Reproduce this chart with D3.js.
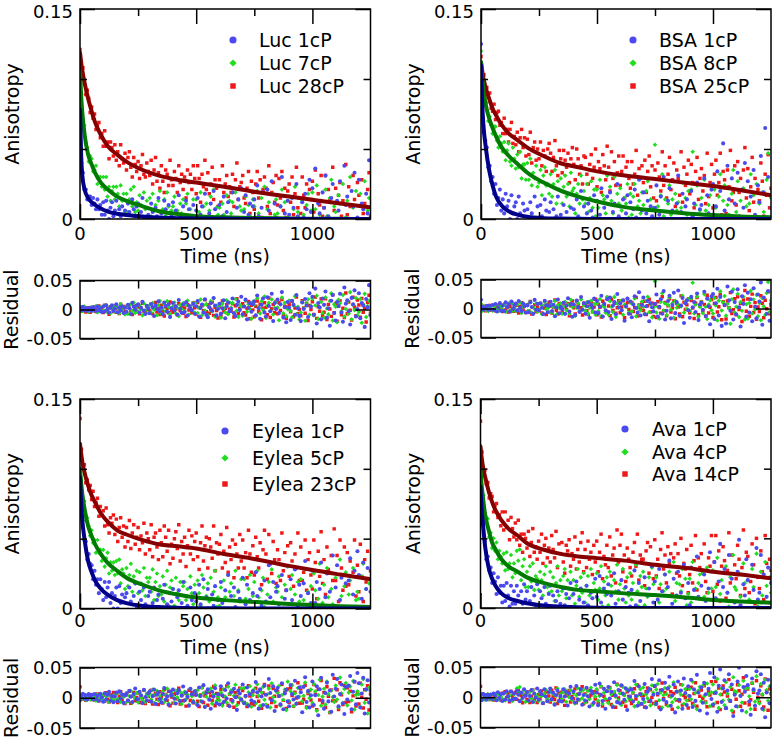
<!DOCTYPE html>
<html><head><meta charset="utf-8">
<script src="https://cdn.jsdelivr.net/npm/d3@7"></script>
<style>body{margin:0;background:#fff}svg text{font-family:"DejaVu Sans",sans-serif;fill:#000}</style>
</head><body><svg id="c" width="776" height="737"></svg>
<script>
// ---------- data ----------
const timeStep = 6.25; // ns between samples, 0..1250 ns
const fitTimes = [0,5,10,20,35,50,65,90,120,160,200,270,340,420,500,620,750,900,1000,1120,1250];
const xMajorTicks = [0,500,1000];
const xMinorTicks = [250,750];
const xTickLabels = ["0","500","1000"];
const yMajorTicks = [0,0.15];
const yMinorTicks = [0.05,0.1];
const yTickLabels = ["0","0.15"];
const resXTicks = [250,500,750,1000];
const resYTicks = [-0.05,0,0.05];
const resTickLabels = ["-0.05","0","0.05"];

const lucNames = ["Luc 1cP","Luc 7cP","Luc 28cP"];
const bsaNames = ["BSA 1cP","BSA 8cP","BSA 25cP"];
const eyleaNames = ["Eylea 1cP","Eylea 5cP","Eylea 23cP"];
const avaNames = ["Ava 1cP","Ava 4cP","Ava 14cP"];

const luc1Fit = [.078,.045,.031,.021,.015,.012,.010,.0075,.0053,.0038,.0029,.0018,.001,.0006,.0003,.0001,0,0,0,0,0];
const luc7Fit = [.105,.088,.076,.060,.046,.039,.033,.026,.021,.016,.013,.009,.0055,.0035,.002,.0012,.0007,.0004,.0002,.0001,0];
const luc28Fit = [.119,.112,.106,.097,.086,.077,.069,.060,.052,.046,.041,.035,.031,.028,.026,.023,.0195,.016,.0137,.011,.0083];
const bsa1Fit = [.110,.083,.068,.052,.035,.024,.016,.0095,.0055,.003,.0016,.0006,.0003,.0001,0,0,0,0,0,0,0];
const bsa8Fit = [.112,.102,.093,.082,.072,.065,.059,.051,.045,.039,.033,.026,.0205,.016,.0125,.0085,.006,.0038,.0028,.0018,.0012];
const bsa25Fit = [.112,.106,.101,.094,.086,.079,.074,.067,.061,.056,.051,.045,.040,.037,.034,.031,.0285,.0255,.0235,.0205,.017];
const eylea1Fit = [.094,.075,.063,.049,.034,.026,.020,.014,.0098,.006,.0038,.0018,.001,.0005,.0002,.0001,0,0,0,0,0];
const eylea5Fit = [.100,.090,.082,.071,.059,.052,.046,.039,.0325,.027,.022,.017,.013,.010,.0078,.006,.0047,.0033,.0025,.0017,.001];
const eylea23Fit = [.118,.111,.105,.097,.088,.081,.076,.068,.062,.056,.053,.049,.046,.0445,.043,.039,.0355,.0305,.0275,.0243,.021];
const ava1Fit = [.087,.070,.061,.044,.029,.021,.0158,.0105,.0072,.005,.0034,.0018,.001,.0005,.0002,0,0,0,0,0,0];
const ava4Fit = [.100,.088,.080,.067,.056,.047,.042,.035,.030,.026,.022,.018,.0153,.013,.012,.0105,.0093,.0073,.0058,.0047,.0038];
const ava14Fit = [.116,.108,.102,.094,.084,.076,.070,.063,.057,.052,.0465,.042,.039,.037,.0358,.034,.031,.0285,.026,.024,.0213];

const luc1 = [.081,.040,.033,.021,.021,.014,.016,.016,.010,.015,.011,.007,.014,.007,.010,.003,
.012,.003,.013,.006,0,.008,.012,.002,.006,.013,-.001,.007,.002,.009,-.003,.006,
-.001,.011,.005,-.005,.014,.007,.002,.009,.011,-.003,.005,.015,0,-.006,.008,.003,
-.005,.011,.005,-.010,.008,.002,.015,-.002,.004,-.007,.013,.007,-.003,.010,-.012,.003,
.012,-.001,.006,-.008,.017,.002,-.005,.009,-.004,.013,-.010,.007,.002,-.001,.010,-.007,
.006,.015,-.012,.003,.009,-.005,.018,-.009,-.013,.004,.011,-.002,.020,.007,-.010,.001,
.010,-.007,.002,.016,-.015,.005,.012,-.003,.001,.019,-.006,-.011,.008,.014,-.001,.022,
-.008,.005,.017,-.017,.003,.011,-.004,.009,.014,-.010,.024,.002,-.016,.008,.019,-.005,
-.012,.021,.006,-.003,.027,-.020,.011,.001,.017,-.006,.009,.030,-.014,.004,-.022,.013,
.003,-.018,.015,.008,-.009,.025,.002,-.011,-.020,.012,.001,.018,.007,-.013,.028,.005,
.022,-.009,.036,-.024,.011,.004,-.017,.019,.008,.031,-.014,.002,-.028,.015,.025,-.006,
-.019,.013,.006,.027,-.005,-.021,.038,.010,.016,-.003,-.026,.020,.009,.033,-.012,.001,
.028,-.015,.011,.007,-.030,.018,.004,.042,-.010];
const luc7 = [.103,.089,.069,.067,.054,.051,.041,.045,.043,.034,.035,.038,.025,.030,.030,.023,
.030,.021,.030,.016,.023,.013,.020,.023,.014,.023,.018,.009,.024,.013,.018,.005,
.018,.005,.014,.021,.009,.023,.005,.012,.006,.017,.010,-.001,.019,.007,.013,.002,
.015,.002,.018,.006,.010,-.004,.013,.020,-.002,.007,.014,.002,.019,.009,-.004,.006,
.009,.016,-.003,.006,-.008,.011,.004,.014,0,.011,.018,-.006,.007,.001,.014,-.003,
.014,-.004,.005,.019,-.008,.009,0,.011,-.008,.006,.016,-.002,.021,-.011,.008,.003,
.008,-.013,.011,.003,-.004,.017,-.007,.013,.004,.012,-.006,.019,-.001,-.012,.009,.006,
-.010,.007,.016,-.003,.010,.002,-.015,.014,.009,-.011,.020,.004,-.006,.015,0,.023,
-.014,.007,.012,-.002,.018,-.008,.003,.014,.004,-.018,.009,.021,-.006,.012,-.011,.001,
.016,-.002,-.013,.007,.023,-.008,.005,-.017,-.005,.013,.003,-.019,.010,.018,-.009,.006,
.019,-.010,.007,.024,-.016,.003,.013,-.006,-.014,.021,.002,-.008,.015,.028,-.019,.009,
.005,-.022,.017,.011,-.003,.025,-.012,.001,.013,-.007,.030,-.017,.008,-.001,.020,-.010,
-.004,.018,-.023,.009,.027,-.013,.006,.015,-.008];
const luc28 = [.121,.108,.108,.097,.089,.092,.086,.076,.080,.072,.075,.064,.067,.069,.058,.061,
.052,.063,.052,.055,.043,.055,.051,.045,.053,.042,.048,.038,.053,.043,.040,.047,
.035,.044,.048,.037,.030,.044,.039,.034,.041,.029,.038,.046,.032,.030,.040,.034,
.031,.042,.025,.035,.044,.027,.033,.022,.038,.027,.019,.035,.032,.024,.042,.028,
.024,.034,.029,.019,.038,.026,.032,.021,.030,.015,.035,.026,.032,.021,.038,.029,
.018,.038,.029,.012,.032,.023,.042,.021,.033,.018,.025,.037,.014,.028,.022,.009,
.028,.012,.038,.019,.025,.031,.016,.023,.019,.032,.009,.028,.040,.014,.023,.026,
.031,.015,.011,.022,.034,.004,.027,.019,.007,.025,.034,.015,.028,.001,.021,.030,
.022,.009,.038,.004,.019,.026,.012,.031,.010,.029,.015,.034,.006,.022,.001,.020,
.025,.012,.030,.003,.018,.037,.008,.015,.004,.030,.017,.008,.025,-.005,.021,.014,
.027,.005,.035,-.002,.018,.010,.031,.002,.008,.031,-.005,.021,.013,0,.037,.006,
.022,-.009,.017,.026,.002,.013,-.003,.039,.003,.023,.009,-.008,.031,.014,-.001,.026,
.017,-.004,.028,.004,.011,-.013,.021,.033,.002];

const bsa1 = [.125,.082,.062,.056,.051,.037,.038,.027,.030,.018,.025,.010,.015,.021,.006,.014,
.004,.018,.009,.013,0,.017,.004,.009,.012,0,.016,.004,-.002,.011,.006,-.005,
.007,-.005,.012,.004,-.008,.016,-.001,.009,-.002,.010,.002,-.009,.014,.006,-.006,.005,
.012,-.004,.007,-.013,.002,.016,-.008,.003,-.001,.010,-.009,.005,.018,-.005,.008,-.014,
.007,-.011,.014,.002,-.006,.020,-.002,.009,-.009,.004,.011,-.016,.006,.001,.017,-.007,
.013,-.008,.003,.022,-.014,.008,-.003,.016,-.006,.019,-.018,.005,.011,-.010,.025,.002,
.009,-.003,.014,-.021,.004,.017,-.009,.012,-.015,.007,.021,.001,-.007,.028,-.012,.006,
.019,-.010,.004,.013,-.022,.009,.002,-.005,.008,.024,-.014,.003,.016,-.009,.030,-.019,
-.004,.013,.022,-.017,.006,.027,-.008,.011,.031,-.012,.005,.018,-.025,.009,.014,-.003,
-.016,.020,.002,.011,-.006,.026,-.020,.007,.010,-.002,.029,-.013,.017,.004,-.027,.021,
.025,-.018,.009,.034,-.012,.020,-.030,.054,.006,-.026,.038,.014,-.004,.029,-.019,.011,
-.010,.033,.002,-.031,.021,.008,.040,-.014,.027,-.007,.016,-.022,.035,.003,-.017,.024,
.012,.045,-.028,.019,.065,-.009,.030,-.021,.008];
const bsa8 = [.120,.096,.094,.081,.083,.070,.073,.067,.061,.066,.066,.056,.051,.059,.054,.048,
.055,.042,.049,.054,.041,.038,.051,.043,.036,.046,.037,.048,.029,.039,.039,.028,
.040,.028,.043,.024,.033,.029,.038,.023,.026,.035,.017,.031,.037,.024,.025,.018,
.032,.016,.025,.035,.011,.027,.021,.029,.011,.023,.031,.016,.025,.009,.033,.020,
.022,.004,.018,.025,.011,.031,.014,.020,.011,.025,.005,.015,.027,.008,.021,.002,
.021,.008,.028,-.001,.017,.014,.004,.031,0,.023,.013,.004,.030,-.005,.018,.011,
.022,.006,-.002,.015,.011,.025,.001,.018,.003,.016,.025,-.006,.009,.013,.004,.019,
.010,-.002,.020,.027,0,.014,-.009,.008,.053,-.001,.009,-.012,.017,.032,.002,.014,
-.006,.011,.024,.003,.014,-.011,.018,.006,.012,-.009,.008,.026,-.003,.015,.003,.020,
0,.021,.048,-.005,.010,.024,-.011,.006,.015,-.005,.028,.006,-.015,.010,.017,0,
-.006,.021,.008,-.018,.016,.032,-.001,.013,.024,-.010,.010,.003,-.024,.018,.035,-.005,
.005,.027,-.013,.013,-.002,.022,-.017,.009,-.016,.011,.032,-.007,.017,0,.025,-.012,
.011,-.019,.019,.005,-.010,.028,.047,-.005,.015];
const bsa25 = [.116,.103,.103,.091,.094,.087,.090,.079,.077,.082,.071,.076,.077,.067,.069,.061,
.072,.061,.064,.055,.064,.069,.054,.059,.053,.062,.048,.058,.064,.051,.058,.045,
.057,.046,.062,.040,.051,.055,.042,.050,.043,.055,.038,.049,.045,.034,.050,.054,
.047,.034,.044,.056,.038,.031,.049,.043,.033,.049,.042,.037,.047,.026,.043,.051,
.039,.028,.050,.043,.032,.038,.025,.045,.044,.032,.025,.039,.046,.029,.037,.050,
.023,.041,.036,.019,.046,.038,.028,.052,.037,.020,.048,.029,.041,.024,.033,.045,
.024,.034,.045,.015,.037,.041,.029,.022,.041,.025,.032,.049,.017,.036,.029,.038,
.026,.042,.019,.034,.045,.023,.038,.015,.035,.013,.040,.030,.020,.048,.024,.038,
.015,.032,.044,.021,.028,.040,.009,.035,.029,.017,.048,.012,.037,.024,.032,.042,
.018,.039,.026,.008,.034,.044,.014,.029,.036,.020,.031,.011,.047,.016,.026,.039,
.008,.032,.042,.017,.026,.047,.003,.034,.028,.004,.035,.023,.049,.013,.019,.038,
.010,.041,.019,.029,-.002,.035,.051,.015,.036,.006,.023,.044,.012,.029,0,.021,
.013,.040,.027,.002,.032,.017,.046,.008,.022];

const eylea1 = [.090,.075,.066,.049,.048,.035,.039,.032,.031,.021,.027,.017,.021,.011,.021,.014,
.006,.019,.008,.015,.019,.004,.011,0,.009,.015,0,.016,.004,.010,-.004,.008,
.011,-.001,.015,.005,-.004,.009,.018,0,0,.012,.006,-.007,.015,.003,-.003,.009,
.012,-.005,.004,.015,-.009,.006,.010,-.001,-.007,.007,.017,-.002,.003,-.011,.011,.005,
.014,-.001,-.009,.008,.013,-.005,.004,.019,-.004,.009,.002,-.013,.015,.006,-.007,.011,
.005,-.012,.017,.003,-.006,.021,-.015,.008,.014,-.003,-.018,.010,.002,.016,-.009,.006,
-.011,.019,.004,-.007,.013,-.001,.024,-.014,.009,-.005,.015,.001,-.020,.012,.007,-.003,
.022,-.009,.003,.017,-.013,.006,-.004,.011,-.007,.026,.009,-.018,.014,.002,-.012,.020,
.005,-.015,.031,.008,-.004,.019,-.022,.012,.016,.003,-.011,.024,-.019,.007,.013,-.006,
-.014,.021,.006,-.003,.028,-.010,.001,.017,.009,-.024,.018,.034,-.007,.011,-.016,.004,
.027,-.012,.004,.019,-.029,.014,.033,-.005,-.018,.008,.025,-.006,.012,-.023,.038,.002,
.015,.031,-.014,.006,.022,-.009,-.027,.018,-.003,.020,.036,-.019,.010,.027,-.011,.041,
.024,-.016,.007,.033,-.026,.014,.029,-.008,.012];
const eylea5 = [.097,.092,.078,.077,.063,.065,.059,.052,.056,.047,.049,.040,.049,.040,.042,.034,
.042,.030,.036,.040,.025,.033,.027,.033,.024,.034,.025,.035,.018,.028,.025,.014,
.029,.016,.024,.032,.012,.023,.018,.027,.011,.026,.018,.013,.029,.009,.022,.019,
.022,.012,.028,.006,.019,.025,.009,.016,.010,.023,.005,.017,.027,.002,.015,.020,
.014,.002,.022,.011,.006,.019,-.001,.016,.019,.006,.014,-.003,.023,.011,.003,.017,
-.002,.020,.011,.002,.024,.015,-.007,.009,.018,.005,.022,-.003,.012,.027,.001,.008,
.002,.015,-.007,.020,.008,-.002,.024,.012,.018,-.002,.009,.027,-.007,.013,.005,.021,
-.001,.021,.007,-.005,.014,.024,-.010,.009,.019,-.005,.027,.008,-.009,.013,.022,.001,
-.007,.010,.019,-.012,.028,.005,-.003,.015,.012,.023,-.009,.008,0,.017,-.017,.030,
-.002,.014,.024,-.011,.010,-.006,.019,.005,.021,-.003,.006,.028,-.014,.012,.002,.016,
-.006,.025,.013,-.019,.007,.032,-.011,.004,.017,-.009,.029,.008,-.022,.014,.003,-.005,
.022,-.001,-.014,.035,.009,-.007,.016,.026,-.011,.010,.020,-.003,.029,-.018,.006,.012,
.007,-.014,.023,.032,-.007,.014,-.025,.018,-.002];
const eylea23 = [.136,.114,.101,.103,.090,.092,.085,.088,.078,.084,.073,.076,.079,.066,.073,.067,
.070,.059,.072,.060,.054,.065,.061,.067,.053,.064,.048,.058,.065,.051,.059,.044,
.058,.048,.063,.043,.054,.060,.046,.051,.058,.042,.052,.047,.061,.039,.054,.050,
.042,.060,.037,.051,.054,.044,.035,.056,.047,.037,.059,.051,.041,.056,.032,.046,
.036,.050,.055,.043,.060,.034,.048,.039,.051,.030,.045,.056,.039,.052,.035,.048,
.054,.037,.028,.047,.059,.034,.045,.051,.029,.050,.044,.036,.059,.027,.047,.039,
.046,.053,.029,.041,.033,.058,.026,.044,.035,.049,.022,.046,.039,.029,.053,.034,
.049,.029,.040,.022,.056,.039,.026,.045,.024,.051,.037,.029,.047,.017,.042,.056,
.039,.021,.053,.032,.025,.048,.035,.018,.042,.035,.020,.054,.027,.040,.013,.045,
.023,.047,.034,.016,.039,.029,.054,.020,.044,.020,.026,.049,.013,.035,.040,.024,
.014,.049,.033,.007,.041,.023,.055,.018,.035,.010,.044,.028,.001,.038,.020,.057,
.020,.038,.005,.049,.029,.013,.044,.016,.040,.017,.034,0,.026,.049,.009,.031,
.012,.046,.023,.005,.035,.019,.041,.001,.027];

const ava1 = [.090,.063,.062,.048,.035,.037,.027,.029,.018,.025,.019,.010,.022,.011,.016,.004,
.016,.005,.018,.009,.001,.016,.003,.012,.003,.016,.009,-.002,.012,.003,.017,.006,
.012,-.002,.005,.015,-.005,.009,.002,.017,-.002,.012,.007,-.008,.015,.003,-.005,.010,
.016,-.002,.009,-.011,.005,.012,-.005,.003,-.006,.014,.002,.010,-.013,.007,.018,-.001,
.010,-.008,.019,-.003,.006,.014,-.012,.004,-.005,.016,.002,-.015,.011,.007,-.009,.021,
.008,-.013,.023,.004,-.006,.014,-.019,.010,.017,-.002,.009,-.016,.025,.003,-.008,.012,
-.010,.020,.006,-.004,.015,-.021,.011,.001,.013,-.007,.027,.002,-.014,.018,.005,-.011,
-.003,.022,-.017,.009,.014,-.006,.030,.004,.019,-.011,.006,.028,-.020,.012,-.004,.024,
-.008,.015,.034,-.014,.003,.021,-.025,.009,.026,-.004,.011,-.019,.031,.007,-.013,.018,
.002,.029,-.016,.013,-.006,.037,.008,-.022,.016,-.009,.024,.005,-.027,.014,.040,-.003,
-.012,.033,.007,-.024,.019,.046,-.008,.015,.028,-.018,.011,.038,-.006,.021,-.031,.004,
-.015,.026,.049,.002,-.022,.017,.009,.035,.020,-.007,-.029,.031,.013,-.014,.043,.006,
.011,.038,-.019,.024,-.033,.008,.029,-.010,.018];
const ava4 = [.103,.083,.081,.065,.065,.064,.051,.054,.043,.050,.041,.047,.035,.041,.037,.032,
.039,.027,.040,.028,.032,.038,.022,.032,.025,.041,.034,.042,.020,.030,.035,.015,
.026,.015,.030,.019,.032,.013,.023,.021,.013,.026,.020,.009,.024,.030,.015,.011,
.026,.012,.022,.005,.018,.030,.009,.020,.012,.023,.028,.007,.020,.014,.026,.009,
.020,.003,.016,.028,.008,.022,.011,.025,.004,.016,.023,.009,.028,0,.018,.013,
.025,.006,.014,.030,.001,.019,.009,.022,.002,.026,.016,-.003,.020,.012,.031,.006,
.017,-.002,.028,.014,.004,.022,.009,.025,.006,.018,-.005,.031,.012,.001,.023,.015,
.026,.002,.014,.008,.022,-.004,.029,.017,-.002,.022,.031,.004,.017,-.008,.012,.024,
.014,-.006,.026,.009,0,.033,.005,.018,-.009,.017,.012,.028,-.003,.021,.002,.010,
.021,.004,.033,-.006,.014,-.013,.018,.024,0,.025,.008,-.003,.029,.011,-.009,.014,
.027,-.005,.015,.036,-.012,.010,.020,0,-.008,.030,.011,.001,.022,-.017,.038,.015,
.013,-.011,.025,.008,-.004,.032,.018,-.020,.020,.006,-.015,.028,.015,-.003,.039,.001,
-.006,.026,.009,-.017,.033,.016,-.002,.022,.011];
const ava14 = [.134,.112,.098,.099,.089,.090,.079,.082,.080,.069,.074,.075,.065,.067,.059,.069,
.056,.069,.058,.063,.049,.065,.057,.051,.061,.049,.063,.045,.053,.040,.053,.050,
.043,.055,.037,.047,.057,.040,.044,.035,.048,.040,.053,.032,.045,.050,.036,.043,
.033,.052,.042,.036,.055,.029,.046,.039,.047,.033,.025,.045,.041,.049,.030,.039,
.035,.051,.028,.042,.033,.047,.054,.026,.042,.029,.048,.035,.040,.024,.045,.033,
.048,.026,.040,.053,.021,.037,.031,.045,.029,.051,.023,.038,.043,.018,.056,.033,
.045,.053,.026,.038,.019,.043,.035,.029,.023,.040,.047,.030,.053,.020,.038,.035,
.035,.016,.041,.047,.025,.044,.031,.021,.049,.023,.035,.014,.042,.054,.028,.038,
.018,.044,.032,.039,.010,.036,.046,.025,.039,.023,.050,.016,.032,.028,.042,.011,
.024,.045,.018,.034,.052,.013,.036,.029,.039,.025,.046,.019,.011,.036,.030,.052,
.012,.033,.052,.017,.041,.005,.030,.044,.034,.007,.027,.054,.018,.038,0,.031,
.021,.045,.035,.009,.029,.056,.014,.040,.037,.011,.019,.046,.031,.003,.050,.022,
.014,.041,.026,.006,.052,.032,0,.035,.027];

// ---------- drawing ----------
const colors = ["#4a4aee","#20dd20","#ee1818"];
const fitColors = ["#000088","#007a00","#860000"];
const times = d3.range(0, 1250 + 1e-6, timeStep);

const panels = [
  {names:lucNames, series:[luc1,luc7,luc28], fits:[luc1Fit,luc7Fit,luc28Fit],
   x0:80, x1:370.5, y0:9, y1:219, ry0:280.5, ry1:338.5, xlabY:239.5, titleY:263,
   lmx:233, ltx:259, lys:[40,63,86]},
  {names:bsaNames, series:[bsa1,bsa8,bsa25], fits:[bsa1Fit,bsa8Fit,bsa25Fit],
   x0:481, x1:771, y0:9, y1:219, ry0:279.5, ry1:337.5, xlabY:239.5, titleY:263,
   lmx:633, ltx:659, lys:[40,63,86]},
  {names:eyleaNames, series:[eylea1,eylea5,eylea23], fits:[eylea1Fit,eylea5Fit,eylea23Fit],
   x0:80, x1:370.5, y0:399, y1:608.5, ry0:667.5, ry1:728, xlabY:627, titleY:654,
   lmx:225, ltx:252, lys:[431,458,484]},
  {names:avaNames, series:[ava1,ava4,ava14], fits:[ava1Fit,ava4Fit,ava14Fit],
   x0:480.5, x1:771, y0:399, y1:608, ry0:667, ry1:727.5, xlabY:627, titleY:654,
   lmx:625, ltx:652, lys:[429,452,474]}
];

const svg = d3.select("#c");
svg.append("rect").attr("width",776).attr("height",737).attr("fill","#fff");

const symbols = [
  d3.symbol(d3.symbolCircle, 13)(),
  d3.symbol(d3.symbolSquare, 10.5)(),
  d3.symbol(d3.symbolSquare, 12)()
];
const legendSymbols = [
  d3.symbol(d3.symbolCircle, 40)(),
  d3.symbol(d3.symbolSquare, 26)(),
  d3.symbol(d3.symbolSquare, 30)()
];
const rot = [0,45,0];

function ticks(g, axisFn, scale, vals, size, tx, ty){
  const a = g.append("g").attr("transform",`translate(${tx},${ty})`)
    .call(axisFn(scale).tickValues(vals).tickSize(size).tickFormat(""));
  a.select(".domain").remove();
  a.selectAll("line").attr("stroke","#000").attr("stroke-width",1.5);
}

panels.forEach((p, pi) => {
  const g = svg.append("g");
  const x = d3.scaleLinear().domain([0,1250]).range([p.x0,p.x1]);
  const y = d3.scaleLinear().domain([0,0.15]).range([p.y1,p.y0]);
  const yr = d3.scaleLinear().domain([-0.05,0.05]).range([p.ry1,p.ry0]);

  const defs = svg.append("defs");
  defs.append("clipPath").attr("id","cm"+pi).append("rect")
    .attr("x",p.x0).attr("y",p.y0).attr("width",p.x1-p.x0).attr("height",p.y1-p.y0);
  defs.append("clipPath").attr("id","cr"+pi).append("rect")
    .attr("x",p.x0).attr("y",p.ry0).attr("width",p.x1-p.x0).attr("height",p.ry1-p.ry0);

  const fitScales = p.fits.map(f => d3.scaleLinear().domain(fitTimes).range(f));

  // main data
  const gm = g.append("g").attr("clip-path",`url(#cm${pi})`);
  [2,1,0].forEach(k => {
    gm.append("g").selectAll("path").data(p.series[k]).join("path")
      .attr("d", symbols[k]).attr("fill", colors[k])
      .attr("transform",(d,i)=>`translate(${x(times[i])},${y(d)}) rotate(${rot[k]})`);
  });
  // fits
  const line = d3.line().x((d,i)=>x(fitTimes[i])).y(d=>y(d)).curve(d3.curveMonotoneX);
  [2,1,0].forEach(k => {
    gm.append("path").datum(p.fits[k]).attr("d", line).attr("fill","none")
      .attr("stroke", fitColors[k]).attr("stroke-width",4).attr("stroke-linecap","round");
  });

  // residual data
  const gr = g.append("g").attr("clip-path",`url(#cr${pi})`);
  [2,1,0].forEach(k => {
    gr.append("g").selectAll("path").data(p.series[k]).join("path")
      .attr("d", symbols[k]).attr("fill", colors[k])
      .attr("transform",(d,i)=>`translate(${x(times[i])},${yr(d - fitScales[k](times[i]))}) rotate(${rot[k]})`);
  });

  // frames
  g.append("rect").attr("x",p.x0).attr("y",p.y0).attr("width",p.x1-p.x0).attr("height",p.y1-p.y0)
    .attr("fill","none").attr("stroke","#000").attr("stroke-width",1.5);
  g.append("rect").attr("x",p.x0).attr("y",p.ry0).attr("width",p.x1-p.x0).attr("height",p.ry1-p.ry0)
    .attr("fill","none").attr("stroke","#000").attr("stroke-width",1.5);

  // main ticks (inward)
  ticks(g, d3.axisBottom, x, xMajorTicks, -15, 0, p.y1);
  ticks(g, d3.axisBottom, x, xMinorTicks, -7, 0, p.y1);
  ticks(g, d3.axisTop, x, xMajorTicks, -15, 0, p.y0);
  ticks(g, d3.axisTop, x, xMinorTicks, -7, 0, p.y0);
  ticks(g, d3.axisLeft, y, yMajorTicks, -15, p.x0, 0);
  ticks(g, d3.axisLeft, y, yMinorTicks, -7, p.x0, 0);
  ticks(g, d3.axisRight, y, yMajorTicks, -15, p.x1, 0);
  ticks(g, d3.axisRight, y, yMinorTicks, -7, p.x1, 0);
  // residual ticks
  ticks(g, d3.axisBottom, x, resXTicks, -8, 0, p.ry1);
  ticks(g, d3.axisTop, x, resXTicks, -8, 0, p.ry0);
  ticks(g, d3.axisLeft, yr, resYTicks, -15, p.x0, 0);
  ticks(g, d3.axisRight, yr, resYTicks, -15, p.x1, 0);

  // tick labels
  xMajorTicks.forEach((v,i)=>{
    g.append("text").attr("x",x(v)).attr("y",p.xlabY).attr("text-anchor","middle")
      .attr("font-size",18).text(xTickLabels[i]);
  });
  yMajorTicks.forEach((v,i)=>{
    g.append("text").attr("x",p.x0-7).attr("y",Math.max(y(v)+6.5,18)).attr("text-anchor","end")
      .attr("font-size",18).text(yTickLabels[i]);
  });
  resYTicks.forEach((v,i)=>{
    g.append("text").attr("x",p.x0-7).attr("y",yr(v)+6.5).attr("text-anchor","end")
      .attr("font-size",18).text(resTickLabels[i]);
  });
  // axis titles
  g.append("text").attr("x",(p.x0+p.x1)/2).attr("y",p.titleY).attr("text-anchor","middle")
    .attr("font-size",19).text("Time (ns)");
  g.append("text").attr("transform",`translate(${p.x0-61},${(p.y0+p.y1)/2}) rotate(-90)`)
    .attr("text-anchor","middle").attr("font-size",19).text("Anisotropy");
  g.append("text").attr("transform",`translate(${p.x0-62},${(p.ry0+p.ry1)/2}) rotate(-90)`)
    .attr("text-anchor","middle").attr("font-size",19).text("Residual");

  // legend
  p.names.forEach((n,k)=>{
    g.append("path").attr("d",legendSymbols[k]).attr("fill",colors[k])
      .attr("transform",`translate(${p.lmx},${p.lys[k]}) rotate(${rot[k]})`);
    g.append("text").attr("x",p.ltx).attr("y",p.lys[k]+7).attr("font-size",19).text(n);
  });
});
</script></body></html>
